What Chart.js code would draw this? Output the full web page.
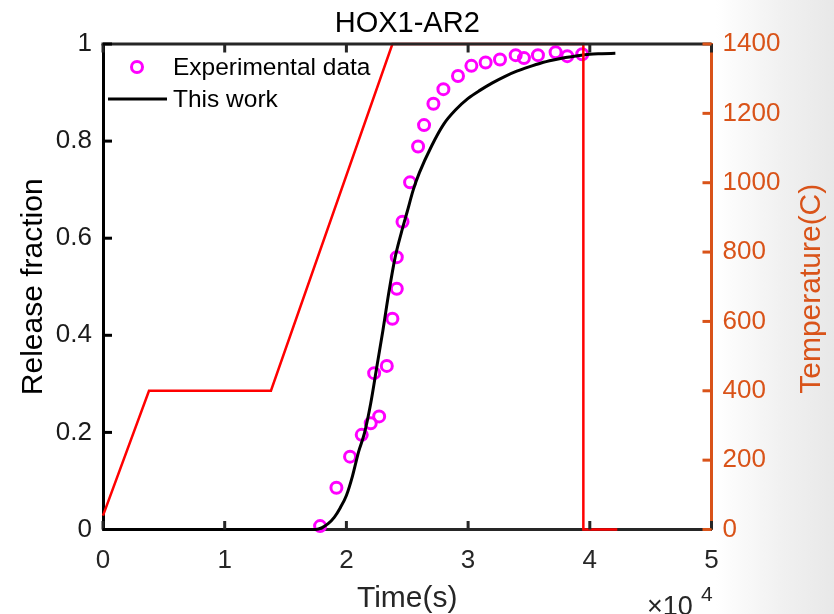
<!DOCTYPE html>
<html><head><meta charset="utf-8">
<script src="https://cdn.jsdelivr.net/npm/chart.js@4.4.0/dist/chart.umd.min.js"></script>
<style>
html,body{margin:0;padding:0;}
body{width:834px;height:614px;overflow:hidden;background:linear-gradient(to right,#ffffff 0px,#ffffff 716px,#f1f1f1 780px,#e8e8e8 834px);}
#wrap{position:relative;width:834px;height:614px;}
canvas{display:block;}
</style></head><body>
<div id="wrap"><canvas id="c" width="834" height="614"></canvas></div>
<script>
// ---- data (time in s) ----
const expTime = [17840,19180,20300,21260,22000,22690,22280,23320,23780,24140,24140,24610,25230,25890,26380,27150,27970,29170,30270,31440,32620,33910,34590,35740,37190,38150,39380];
const expFraction = [0.007,0.086,0.150,0.195,0.219,0.233,0.322,0.337,0.434,0.496,0.561,0.634,0.715,0.789,0.833,0.877,0.907,0.934,0.955,0.962,0.968,0.977,0.971,0.977,0.983,0.975,0.979];

const modelTime = [0,10000,17500,18000,18500,19000,19500,20000,20500,21000,21500,22000,22500,23000,23500,24000,24500,25000,25500,26000,27000,28000,29000,30000,31000,32000,33000,34000,35000,36000,37000,38000,39000,40000,41000,42100];
const modelFraction = [0,0,0,0.004,0.012,0.025,0.045,0.07,0.11,0.16,0.20,0.26,0.335,0.41,0.49,0.56,0.61,0.655,0.70,0.735,0.79,0.835,0.865,0.888,0.905,0.920,0.933,0.944,0.953,0.961,0.967,0.972,0.976,0.979,0.980,0.981];

const tempTime = [0,3780,13800,23780,39470,39470,42260];
const tempValue = [40,400,400,1400,1400,0,0];

const xTickValues = [0,10000,20000,30000,40000,50000];
const xTickLabels = ['0','1','2','3','4','5'];
const yTickValues = [0,0.2,0.4,0.6,0.8,1];
const yTickLabels = ['0','0.2','0.4','0.6','0.8','1'];
const y2TickValues = [0,200,400,600,800,1000,1200,1400];
const y2TickLabels = ['0','200','400','600','800','1000','1200','1400'];

const FONT = '"Liberation Sans", Arial, Helvetica, sans-serif';
const ORANGE = '#D95319';
const DARK = '#262626';

const pts = (xs, ys) => xs.map((x, i) => ({x, y: ys[i]}));

const decorPlugin = {
  id: 'decor',
  afterDraw(chart) {
    const ctx = chart.ctx;
    const a = chart.chartArea;
    const sx = chart.scales.x, sy = chart.scales.y, sy2 = chart.scales.y2;
    ctx.save();
    // top border
    ctx.strokeStyle = DARK; ctx.lineWidth = 3; ctx.lineCap = 'butt';
    ctx.beginPath(); ctx.moveTo(a.left - 1.5, a.top); ctx.lineTo(a.right, a.top); ctx.stroke();
    // x ticks (inward, top and bottom)
    xTickValues.forEach(v => {
      const px = sx.getPixelForValue(v);
      ctx.beginPath(); ctx.moveTo(px, a.bottom); ctx.lineTo(px, a.bottom - 8.5); ctx.stroke();
      ctx.beginPath(); ctx.moveTo(px, a.top); ctx.lineTo(px, a.top + 8.5); ctx.stroke();
    });
    // left y ticks
    ctx.strokeStyle = '#000';
    yTickValues.forEach(v => {
      const py = sy.getPixelForValue(v);
      ctx.beginPath(); ctx.moveTo(a.left, py); ctx.lineTo(a.left + 9, py); ctx.stroke();
    });
    // right y ticks
    ctx.strokeStyle = ORANGE;
    y2TickValues.forEach(v => {
      const py = sy2.getPixelForValue(v);
      ctx.beginPath(); ctx.moveTo(a.right, py); ctx.lineTo(a.right - 9, py); ctx.stroke();
    });
    // title
    ctx.fillStyle = '#000';
    ctx.font = '29px ' + FONT;
    ctx.textAlign = 'center'; ctx.textBaseline = 'alphabetic';
    ctx.fillText('HOX1-AR2', (a.left + a.right) / 2, 31.5);
    // x title
    ctx.fillStyle = DARK;
    ctx.font = '30px ' + FONT;
    ctx.fillText('Time(s)', (a.left + a.right) / 2, 607);
    // exponent
    ctx.textAlign = 'left';
    ctx.font = '27px ' + FONT;
    ctx.fillText('\u00d710', 647, 615);
    ctx.font = '21px ' + FONT;
    ctx.fillText('4', 701, 601);
    // y title
    ctx.save();
    ctx.translate(41.5, (a.top + a.bottom) / 2);
    ctx.rotate(-Math.PI / 2);
    ctx.fillStyle = '#000';
    ctx.font = '30px ' + FONT;
    ctx.textAlign = 'center';
    ctx.fillText('Release fraction', 0, 0);
    ctx.restore();
    // y2 title
    ctx.save();
    ctx.translate(820, (a.top + a.bottom) / 2 + 2);
    ctx.rotate(-Math.PI / 2);
    ctx.fillStyle = ORANGE;
    ctx.font = '30px ' + FONT;
    ctx.textAlign = 'center';
    ctx.fillText('Temperature(C)', 0, 0);
    ctx.restore();
    // legend
    ctx.strokeStyle = '#FF00FF'; ctx.lineWidth = 3;
    ctx.beginPath(); ctx.arc(137, 67, 5.5, 0, Math.PI * 2); ctx.stroke();
    ctx.strokeStyle = '#000'; ctx.lineWidth = 3;
    ctx.beginPath(); ctx.moveTo(108, 99); ctx.lineTo(167, 99); ctx.stroke();
    ctx.fillStyle = '#000';
    ctx.font = '24.5px ' + FONT;
    ctx.textAlign = 'left';
    ctx.fillText('Experimental data', 173, 74.5);
    ctx.fillText('This work', 173, 106.5);
    ctx.restore();
  }
};

new Chart(document.getElementById('c'), {
  type: 'scatter',
  data: {
    datasets: [
      {
        label: 'Temperature',
        data: pts(tempTime, tempValue),
        yAxisID: 'y2',
        showLine: true,
        borderColor: '#FF0000',
        borderWidth: 2.5,
        pointRadius: 0,
        tension: 0,
        clip: false,
        order: 0
      },
      {
        label: 'This work',
        data: pts(modelTime, modelFraction),
        yAxisID: 'y',
        showLine: true,
        borderColor: '#000000',
        borderWidth: 3,
        pointRadius: 0,
        cubicInterpolationMode: 'monotone',
        clip: false,
        order: 1
      },
      {
        label: 'Experimental data',
        data: pts(expTime, expFraction),
        yAxisID: 'y',
        showLine: false,
        borderColor: '#FF00FF',
        backgroundColor: 'rgba(0,0,0,0)',
        borderWidth: 3,
        pointRadius: 5.5,
        pointStyle: 'circle',
        clip: false,
        order: 2
      }
    ]
  },
  options: {
    responsive: false,
    animation: false,
    devicePixelRatio: 1,
    layout: { padding: { top: 44, left: 0, right: 0, bottom: 0 } },
    plugins: { legend: { display: false }, title: { display: false }, tooltip: { enabled: false } },
    scales: {
      x: {
        type: 'linear', position: 'bottom', min: 0, max: 50000,
        afterBuildTicks: s => { s.ticks = xTickValues.map(v => ({ value: v })); },
        afterFit: s => { s.height = 84.5; },
        ticks: {
          callback: (v) => xTickLabels[xTickValues.indexOf(v)],
          font: { family: FONT, size: 26 }, color: DARK, padding: 16, maxRotation: 0, autoSkip: false
        },
        grid: { display: true, color: 'rgba(0,0,0,0)', drawTicks: false },
        border: { display: true, color: DARK, width: 3 }
      },
      y: {
        type: 'linear', position: 'left', min: 0, max: 1,
        afterBuildTicks: s => { s.ticks = yTickValues.map(v => ({ value: v })); },
        afterFit: s => { s.width = 103; },
        ticks: {
          callback: (v) => yTickLabels[yTickValues.indexOf(v)],
          font: { family: FONT, size: 26 }, color: '#1a1a1a', padding: 11, autoSkip: false
        },
        grid: { display: true, color: 'rgba(0,0,0,0)', drawTicks: false },
        border: { display: true, color: '#000', width: 3 }
      },
      y2: {
        type: 'linear', position: 'right', min: 0, max: 1400,
        afterBuildTicks: s => { s.ticks = y2TickValues.map(v => ({ value: v })); },
        afterFit: s => { s.width = 122.5; },
        ticks: {
          callback: (v) => y2TickLabels[y2TickValues.indexOf(v)],
          font: { family: FONT, size: 26 }, color: ORANGE, padding: 11, autoSkip: false
        },
        grid: { display: true, color: 'rgba(0,0,0,0)', drawTicks: false },
        border: { display: true, color: ORANGE, width: 3 }
      }
    }
  },
  plugins: [decorPlugin]
});
</script>
</body></html>
